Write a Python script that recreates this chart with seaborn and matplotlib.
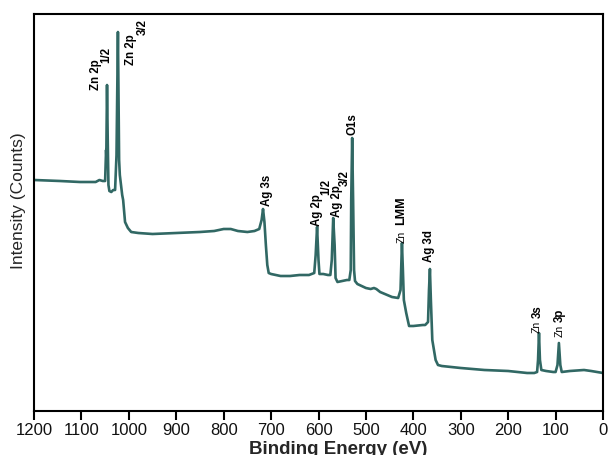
import matplotlib
matplotlib.use("Agg")
import matplotlib.pyplot as plt
import seaborn as sns
import pandas as pd

# ---- data (binding energy in eV, intensity in counts) ----
energy = [1200, 1145, 1103, 1070, 1062, 1055, 1050, 1048, 1047.5, 1046, 1044.5, 1043,
          1041, 1037, 1033, 1029, 1026, 1023, 1020.5, 1019, 1014, 1012, 1008, 1002, 995,
          980, 950, 900, 850, 820, 800, 785, 770, 750, 735, 725, 720, 717, 714, 711, 708,
          705, 700, 680, 660, 640, 620, 609, 606, 603, 600, 598, 590, 580, 575, 572, 569,
          566, 564, 560, 550, 540, 535, 532, 531, 529, 527, 525, 523, 518, 500, 490, 483,
          478, 470, 460, 445, 432, 427, 424, 422, 420, 415, 409, 400, 380, 375, 369, 367,
          365, 363, 360, 353, 348, 340, 300, 250, 200, 160, 145, 139, 137, 135, 133, 130,
          120, 105, 100, 96, 93, 90, 87, 70, 40, 25, 0]
counts = [23100, 23000, 22900, 22900, 23100, 23000, 23000, 26100, 25600, 32600, 27100, 22600,
          22000, 21900, 22100, 22100, 25600, 37900, 25100, 23600, 21600, 21100, 18900, 18300, 17900,
          17800, 17700, 17800, 17900, 18000, 18200, 18200, 18000, 17900, 18000, 18200, 19100, 20200, 18900, 16600, 14600,
          13800, 13700, 13500, 13500, 13600, 13600, 13800, 15600, 18400, 15100, 13700, 13700, 13600, 13600, 15100, 19300,
          16600, 13300, 12900, 13000, 13100, 13100, 14100, 21100, 27300, 21100, 14100, 13000, 12700, 12300, 12200, 12300,
          12200, 11900, 11700, 11400, 11300, 12100, 16800, 14100, 11100, 9800, 8500, 8500, 8600, 8600, 8900, 12100,
          14200, 11100, 7100, 5100, 4600, 4500, 4300, 4100, 4000, 3800, 3800, 3900, 5100, 7800, 5100, 4100,
          4000, 3900, 3900, 4600, 6800, 4600, 3900, 4000, 4100, 4000, 3800]

x_ticks = [1200, 1100, 1000, 900, 800, 700, 600, 500, 400, 300, 200, 100, 0]

# peak labels: (text, energy of label centre, counts at label start)
label_text = ["Zn 2p", "1/2", "Zn 2p", "3/2", "O1s", "Ag 3s", "Ag 2p", "1/2", "Ag 2p", "3/2",
              "LMM", "Ag 3d", "3s", "3p"]
label_energy = [1070, 1048, 995, 970, 529, 709, 603, 583, 562, 544, 426, 367, 137, 91]
label_counts = [32100, 34800, 34600, 37600, 27600, 20500, 18500, 21600, 19400, 22500,
                18600, 14900, 9300, 8900]
small_text = ["Zn", "Zn", "Zn"]
small_energy = [424, 139, 91]
small_counts = [16800, 7800, 7400]

df = pd.DataFrame({"energy": energy, "counts": counts})

sns.set_theme(style="white")
plt.rcParams["font.family"] = ["Liberation Sans", "DejaVu Sans"]

fig = plt.figure(figsize=(6.09, 4.55), dpi=100)
ax = fig.add_axes([34 / 609, 1 - 411 / 455, 569 / 609, 397 / 455])

sns.lineplot(data=df, x="energy", y="counts", sort=False, estimator=None,
             color="#316864", linewidth=1.9, ax=ax)

ax.set_xlim(1200, 0)
ax.set_ylim(0, 39700)
ax.set_xticks(x_ticks)
ax.set_xticklabels([str(t) for t in x_ticks], fontsize=12)
ax.set_yticks([])

for s in ax.spines.values():
    s.set_visible(True)
    s.set_color("black")
    s.set_linewidth(1.5)

ax.tick_params(axis="x", direction="out", length=6.5, width=1.5, color="black",
               bottom=True, pad=2, labelcolor="#111111")

ax.set_xlabel("Binding Energy (eV)", fontsize=13.5, fontweight="bold", va="top")
ax.xaxis.set_label_coords((338 - 34) / 569, (411 - 441) / 397)
ax.set_ylabel("Intensity (Counts)", fontsize=12.5, va="center")
ax.yaxis.set_label_coords((18.5 - 34) / 569, (411 - 201) / 397)

for t, e, c in zip(label_text, label_energy, label_counts):
    size = 9 if t == "LMM" else 8.3
    ax.text(e, c, t, rotation=90, ha="center", va="bottom", fontsize=size,
            fontweight="bold", color="black")
for t, e, c in zip(small_text, small_energy, small_counts):
    ax.text(e, c, t, rotation=90, ha="center", va="bottom", fontsize=7.5,
            color="black")

fig.savefig("out.png", dpi=100)
